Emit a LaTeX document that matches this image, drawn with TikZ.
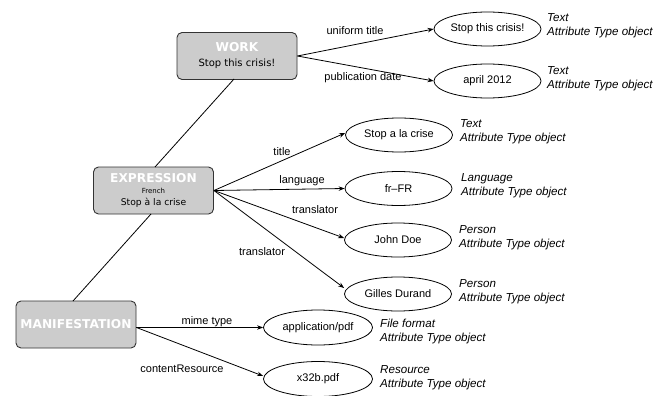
\documentclass[tikz,border=0pt]{standalone}
\usepackage{fontspec}
\setmainfont{Liberation Sans}
\newfontfamily\boxfont{DejaVu Sans}
\usetikzlibrary{arrows.meta,shapes.geometric}
\begin{document}
\begin{tikzpicture}[x=1pt,y=-1pt,
  frbr/.style={draw=black!80, fill=black!20, rounded corners=5pt, line width=0.9pt,
    minimum width=120pt, minimum height=47pt, align=center, inner sep=0pt, font=\boxfont},
  val/.style={ellipse, draw, line width=0.8pt, minimum width=107pt, minimum height=34pt,
    inner sep=0pt, font=\fontsize{11}{12}\selectfont},
  typ/.style={anchor=west, align=left, inner sep=0pt, font=\fontsize{11.6}{14}\selectfont\itshape},
  lbl/.style={inner sep=0pt, font=\fontsize{11}{12}\selectfont},
  rel/.style={line width=0.8pt, -{Stealth[length=6pt,width=4.5pt]}},
  link/.style={line width=0.8pt}]
\useasboundingbox (0,0) rectangle (664,396);

% FRBR boxes
\node[frbr] (work) at (237,56)
  {{\fontsize{12.2}{13}\selectfont\bfseries\color{white}WORK}\\[3pt]{\fontsize{10}{11}\selectfont Stop this crisis!}};
\node[frbr] (expr) at (153.5,190.5)
  {{\fontsize{12.2}{12}\selectfont\bfseries\color{white}EXPRESSION}\\[-1pt]{\fontsize{7}{7.5}\selectfont French}\\[0pt]{\fontsize{9.2}{11}\selectfont Stop à la crise}};
\node[frbr] (mani) at (76,324.5)
  {{\fontsize{12.2}{13}\selectfont\bfseries\color{white}MANIFESTATION}};

\draw[link] (234,79) coordinate (w1) -- (155,167) coordinate (e1);
\draw[link] (151,214) coordinate (e2) -- (73,301) coordinate (m1);

% Work values
\node[val] (v1) at (487.5,29) {Stop this crisis!};
\node[val] (v2) at (487.5,81) {april 2012};
\node[typ] (t1) at (547,26) {Text\\Attribute Type object};
\node[typ] (t2) at (547,78.5) {Text\\Attribute Type object};
\draw[rel] (work.east) -- (v1.west);
\draw[rel] (work.east) -- (v2.west);
\node[lbl] (l1) at (355,31) {uniform title};
\node[lbl] (l2) at (363,78) {publication date};

% Expression values
\node[val] (v3) at (399,135) {Stop a la crise};
\node[val] (v4) at (398.5,188.5) {fr--FR};
\node[val] (v5) at (398,240) {John Doe};
\node[val] (v6) at (398,294) {Gilles Durand};
\node[typ] (t3) at (460,131.5) {Text\\Attribute Type object};
\node[typ] (t4) at (461,186) {Language\\Attribute Type object};
\node[typ] (t5) at (459,238) {Person\\Attribute Type object};
\node[typ] (t6) at (459,291.5) {Person\\Attribute Type object};
\draw[rel] (expr.east) -- ([yshift=2pt]v3.west);
\draw[rel] (expr.east) -- (v4.west);
\draw[rel] (expr.east) -- ([yshift=2pt]v5.west);
\draw[rel] (expr.east) -- ([yshift=6pt]v6.west);
\node[lbl] (l3) at (282,152) {title};
\node[lbl] (l4) at (302,181) {language};
\node[lbl] (l5) at (315,210) {translator};
\node[lbl] (l6) at (262,252) {translator};

% Manifestation values
\node[val, minimum width=109pt, minimum height=35pt] (v7) at (318,327.5) {application/pdf};
\node[val, minimum width=109pt, minimum height=35pt] (v8) at (318,379) {x32b.pdf};
\node[typ] (t7) at (380,331) {File format\\Attribute Type object};
\node[typ] (t8) at (380,377.5) {Resource\\Attribute Type object};
\draw[rel] ([yshift=-3pt]mani.east) -- (v7.west);
\draw[rel] ([yshift=-3pt]mani.east) -- ([yshift=3pt]v8.west);
\node[lbl] (l7) at (207,322) {mime type};
\node[lbl] (l8) at (182,369) {contentResource};
\end{tikzpicture}
\end{document}
